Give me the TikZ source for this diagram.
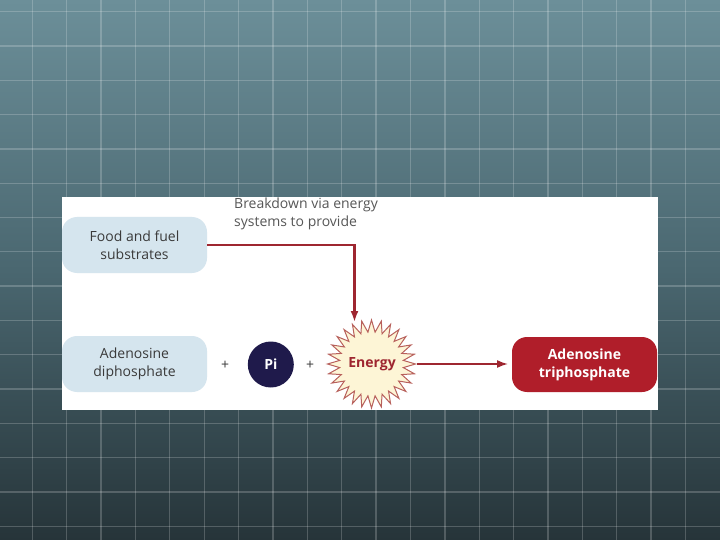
\documentclass[tikz,border=0pt]{standalone}
\usepackage{fontspec}
\setmainfont{Open Sans}
\usetikzlibrary{arrows.meta}
\definecolor{bgtop}{HTML}{6C8F99}
\definecolor{bgmid}{HTML}{4A6770}
\definecolor{bgbot}{HTML}{263439}
\definecolor{boxblue}{HTML}{D5E5EE}
\definecolor{txtgray}{HTML}{3A3A3A}
\definecolor{arrred}{HTML}{9E2630}
\definecolor{atpred}{HTML}{B01E2A}
\definecolor{pinavy}{HTML}{1F1A4B}
\definecolor{starfill}{HTML}{FDF5D6}
\definecolor{starline}{HTML}{B8615C}
\tikzset{
  lbox/.style={fill=boxblue, rounded corners=15pt},
  lbl/.style={font=\fontsize{14}{18}\selectfont, text=txtgray, align=center},
  conn/.style={draw=arrred, line width=2.4pt, -{Latex[length=11pt,width=8pt]}},
  connthin/.style={draw=arrred, line width=1.7pt, -{Latex[length=11pt,width=8pt]}},
}
\begin{document}
\begin{tikzpicture}[x=1pt,y=-1pt]
\useasboundingbox (0,0) rectangle (720,540);
% background
\shade[top color=bgtop, bottom color=bgbot, middle color=bgmid] (0,0) rectangle (720,540);
\foreach \k in {0,...,19} {
  \draw[white, opacity=0.2, line width=1.3pt] ({32.3+34.38*\k},0) -- ({32.3+34.38*\k},540);
}
\foreach \k in {0,...,15} {
  \draw[white, opacity=0.2, line width=1.3pt] (0,{11.7+34.3*\k}) -- (720,{11.7+34.3*\k});
}
% white panel
\fill[white] (62,197) rectangle (658,410);
% boxes
\fill[lbox] (62,217) rectangle (207,273);
\node[lbl] (food) at (134.5,245) {Food and fuel\\substrates};
\fill[lbox] (62,336) rectangle (207,392);
\node[lbl] (adp) at (134.5,364) {Adenosine\\diphosphate};
\coordinate (foodE) at (207,245);
% plus signs
\node[lbl] (plus1) at (225,365) {+};
\node[lbl] (plus2) at (310,365) {+};
% Pi
\node[circle, fill=pinavy, minimum size=46pt, inner sep=0pt, text=white, font=\fontsize{14}{16}\selectfont\bfseries] (pi) at (270.8,364.5) {Pi};
% starburst
\fill[starfill, draw=starline, line width=1pt] (415.5,364)
  \foreach \i in {0,...,27} {
    -- ({371.5+32*cos(\i*360/28+180/28)},{364+32*sin(\i*360/28+180/28)})
    -- ({371.5+44*cos((\i+1)*360/28)},{364+44*sin((\i+1)*360/28)})
  } -- cycle;
\node[font=\fontsize{14}{16}\selectfont\bfseries, text=arrred] (energy) at (372,364) {Energy};
\coordinate (energyN) at (354.5,322);
\coordinate (energyE) at (417,364);
% ATP
\fill[atpred, rounded corners=15pt] (512,337) rectangle (657,392);
\node[lbl, text=white, font=\fontsize{14}{18}\selectfont\bfseries] (atp) at (584.5,364.5) {Adenosine\\triphosphate};
\coordinate (atpW) at (508,364);
% text
\node[lbl, align=left, anchor=north west, text=txtgray!85, inner sep=0pt] (brk) at (234,197.5) {Breakdown via energy\\systems to provide};
% connectors
\draw[conn] (foodE) -| (energyN);
\draw[connthin] (energyE) -- (atpW);
\end{tikzpicture}
\end{document}
